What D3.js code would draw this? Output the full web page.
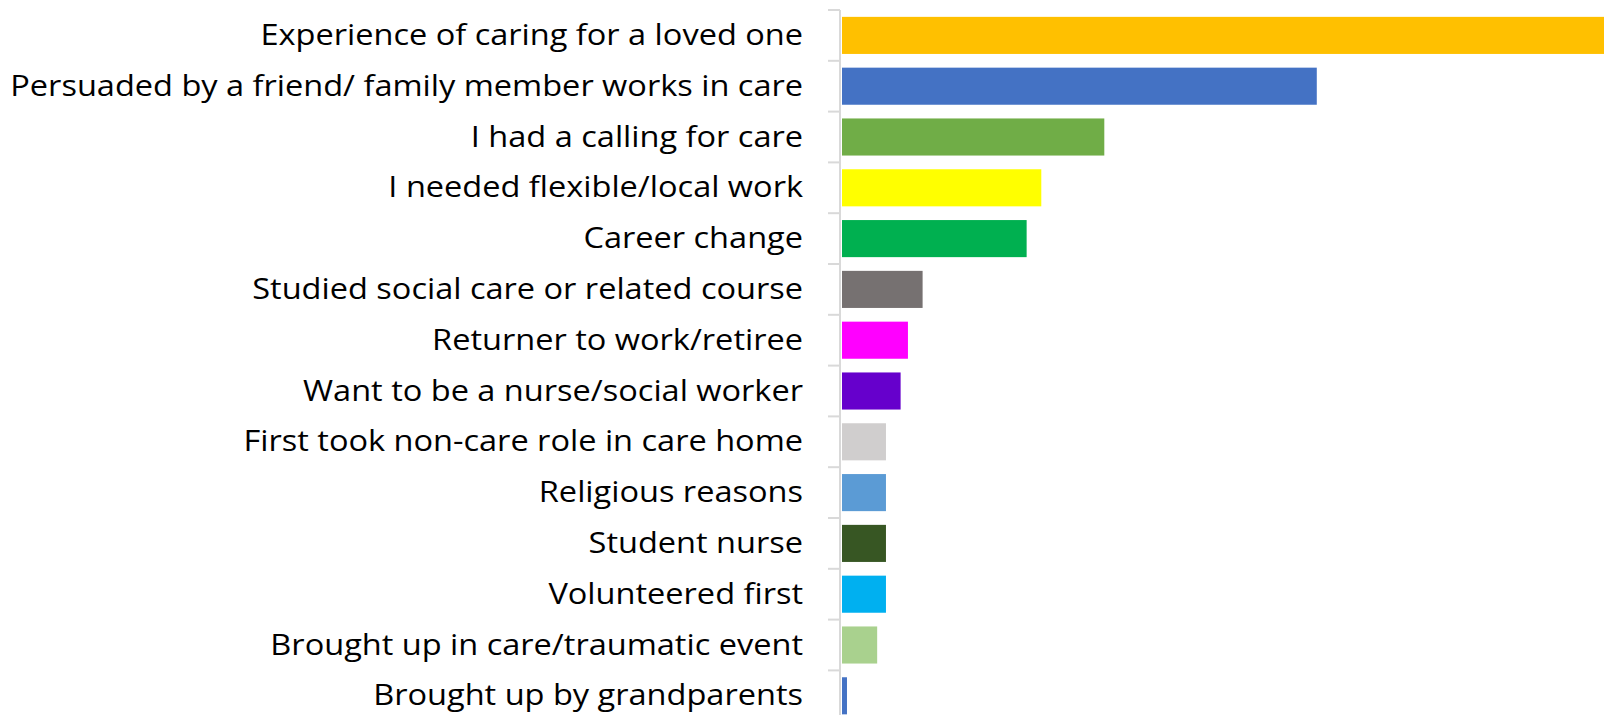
<!DOCTYPE html>
<html>
<head>
<meta charset="utf-8">
<script src="https://cdn.jsdelivr.net/npm/d3@7"></script>
<style>
  body { margin: 0; background: #fff; }
  svg { display: block; }
</style>
</head>
<body>
<div id="chart"></div>
<script>
const categories = [
    "Experience of caring for a loved one",
    "Persuaded by a friend/ family member works in care",
    "I had a calling for care",
    "I needed flexible/local work",
    "Career change",
    "Studied social care or related course",
    "Returner to work/retiree",
    "Want to be a nurse/social worker",
    "First took non-care role in care home",
    "Religious reasons",
    "Student nurse",
    "Volunteered first",
    "Brought up in care/traumatic event",
    "Brought up by grandparents"
];

const values = [52, 32.4, 17.9, 13.6, 12.6, 5.5, 4.5, 4.0, 3.0, 3.0, 3.0, 3.0, 2.4, 0.34];

const colors = [
    "#FFC000", "#4472C4", "#70AD47", "#FFFF00", "#00B050", "#767171", "#FF00FF",
    "#6600CC", "#D0CECE", "#5B9BD5", "#375623", "#00B0F0", "#A9D18E", "#4472C4"
];

const width = 1606, height = 715;
const axisX = 840;

const svg = d3.select("#chart")
    .append("svg")
    .attr("width", width)
    .attr("height", height);

const x = d3.scaleLinear().domain([0, 52]).range([842, 1604]);

const y = d3.scaleBand()
    .domain(categories)
    .range([10, 10 + categories.length * 50.8])
    .paddingInner(0.27)
    .paddingOuter(0.135);

const colorMap = d3.scaleOrdinal().domain(categories).range(colors);

// bars
svg.append("g")
    .selectAll("rect")
    .data(categories)
    .join("rect")
    .attr("x", x(0))
    .attr("y", d => y(d))
    .attr("width", (d, i) => x(values[i]) - x(0))
    .attr("height", y.bandwidth())
    .attr("fill", d => colorMap(d));

// axis line + ticks between categories
const step = y.step();
const r0 = y.range()[0];
const gridColor = "#d9d9d9";
svg.append("line")
    .attr("x1", axisX).attr("x2", axisX)
    .attr("y1", r0).attr("y2", r0 + categories.length * step)
    .attr("stroke", gridColor)
    .attr("stroke-width", 2);

svg.append("g")
    .selectAll("line")
    .data(d3.range(categories.length + 1))
    .join("line")
    .attr("x1", axisX - 12).attr("x2", axisX)
    .attr("y1", i => r0 + i * step)
    .attr("y2", i => r0 + i * step)
    .attr("stroke", gridColor)
    .attr("stroke-width", 2);

// labels
const pad = 37;
const labels = svg.append("g")
    .attr("transform", `translate(${axisX}, 0)`)
    .call(d3.axisLeft(y).tickSize(0).tickPadding(pad));

labels.select(".domain").remove();

const texts = labels.selectAll("text")
    .style("font-family", "'Open Sans', sans-serif")
    .style("font-size", "30px")
    .attr("fill", "#000")
    .attr("dy", null)
    .attr("y", 9.5)
    .style("dominant-baseline", "alphabetic");

// squeeze horizontally to match the narrow original face
const longest = d3.max(texts.nodes(), n => n.getComputedTextLength());
const sx = 793 / longest;
texts.attr("x", -pad / sx).attr("transform", `scale(${sx},1)`);
</script>
</body>
</html>
